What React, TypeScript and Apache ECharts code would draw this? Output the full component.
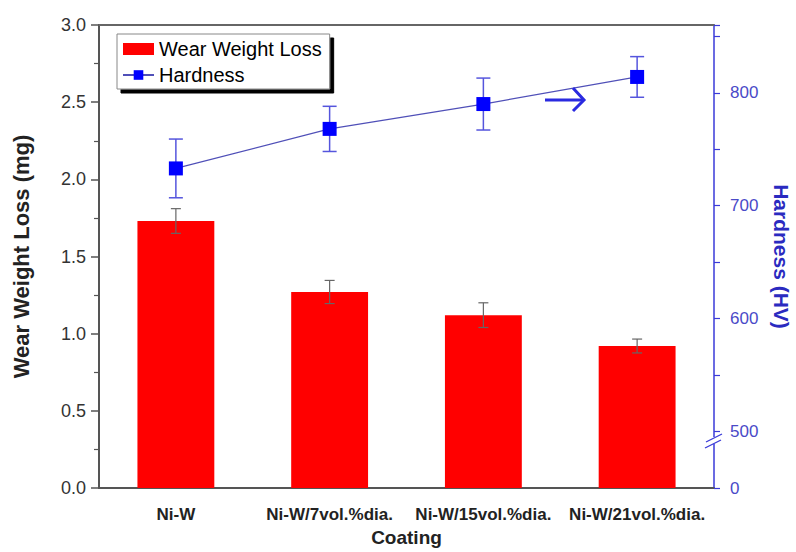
import React, { useEffect, useRef } from "react";
import * as echarts from "echarts";

const categories = ["Ni-W", "Ni-W/7vol.%dia.", "Ni-W/15vol.%dia.", "Ni-W/21vol.%dia."];
const wearLoss = [1.73, 1.27, 1.12, 0.92];
const wearErr = [0.08, 0.075, 0.08, 0.045];
const hardness = [733, 768, 790, 814];
const hardnessErr = [26, 20, 23, 18];
// right axis: broken axis, bottom value shown as "0"
const rightAxisMin = 450;
const rightAxisMax = 860;
const rightAxisLabels: Record<number, string> = { 450: "0", 500: "500", 600: "600", 700: "700", 800: "800" };

const FONT = "'Liberation Sans', Arial, Helvetica, sans-serif";

function errRender(capHalf: number, color: string, lw: number) {
  return (params: any, api: any) => {
    const x = api.value(0);
    const lo = api.coord([x, api.value(1)]);
    const hi = api.coord([x, api.value(2)]);
    const style = { stroke: color, lineWidth: lw, fill: "none" };
    return {
      type: "group",
      children: [
        { type: "line", shape: { x1: lo[0], y1: lo[1], x2: hi[0], y2: hi[1] }, style },
        { type: "line", shape: { x1: hi[0] - capHalf, y1: hi[1], x2: hi[0] + capHalf, y2: hi[1] }, style },
        { type: "line", shape: { x1: lo[0] - capHalf, y1: lo[1], x2: lo[0] + capHalf, y2: lo[1] }, style },
      ],
    };
  };
}

export default function App() {
  const ref = useRef<HTMLDivElement>(null);
  useEffect(() => {
    if (!ref.current) return;
    const chart = echarts.init(ref.current, undefined, { renderer: "svg" });
    const axisGray = "#555";
    const blue = "#3a3ad8";
    chart.setOption({
      animation: false,
      backgroundColor: "#fff",
      textStyle: { fontFamily: FONT },
      grid: { left: 99, right: 82, top: 25, bottom: 64, containLabel: false, outerBoundsMode: "none" },
      legend: {
        orient: "vertical",
        left: 117,
        top: 34,
        data: [
          { name: "Wear Weight Loss", icon: "rect" },
          { name: "Hardness" },
        ],
        itemWidth: 31,
        itemHeight: 12,
        itemGap: 6,
        padding: [5, 8, 4, 5],
        backgroundColor: "#fff",
        borderColor: "#888",
        borderWidth: 1,
        shadowColor: "#000",
        shadowBlur: 0,
        shadowOffsetX: 4,
        shadowOffsetY: 4,
        textStyle: { fontSize: 20, color: "#000", fontFamily: FONT },
      },
      xAxis: [
        {
          type: "category",
          data: categories,
          name: "Coating",
          nameLocation: "middle",
          nameGap: 40,
          nameTextStyle: { fontSize: 19, fontWeight: "bold", color: "#222", fontFamily: FONT },
          axisLine: { lineStyle: { color: axisGray, width: 2 } },
          axisTick: { alignWithLabel: true, length: 6, lineStyle: { color: axisGray, width: 1.5 } },
          axisLabel: { interval: 0, fontSize: 17, fontWeight: "bold", color: "#222", margin: 18, fontFamily: FONT },
          splitLine: { show: false },
        },
        {
          type: "category",
          data: categories,
          position: "top",
          axisLine: { lineStyle: { color: "#666", width: 2 } },
          axisTick: { show: false },
          axisLabel: { show: false },
          splitLine: { show: false },
        },
      ],
      yAxis: [
        {
          type: "value",
          min: 0,
          max: 3,
          interval: 0.5,
          name: "Wear Weight Loss (mg)",
          nameLocation: "middle",
          nameGap: 67,
          nameTextStyle: { fontSize: 22, fontWeight: "bold", color: "#222", fontFamily: FONT },
          axisLine: { show: true, lineStyle: { color: axisGray, width: 2 } },
          axisTick: { show: true, length: 8, lineStyle: { color: axisGray, width: 1.5 } },
          minorTick: { show: true, splitNumber: 2, length: 5, lineStyle: { color: axisGray, width: 1.2 } },
          axisLabel: { fontSize: 18, color: "#333", margin: 13, fontFamily: FONT, formatter: (v: number) => v.toFixed(1) },
          splitLine: { show: false },
        },
        {
          type: "value",
          position: "right",
          min: rightAxisMin,
          max: rightAxisMax,
          interval: 50,
          name: "Hardness (HV)",
          nameLocation: "middle",
          nameRotate: -90,
          nameGap: 57,
          nameTextStyle: { fontSize: 21, fontWeight: "bold", color: "#2a2ac0", fontFamily: FONT },
          axisLine: { show: true, lineStyle: { color: blue, width: 1.5 } },
          axisTick: { show: true, length: 6, lineStyle: { color: blue, width: 1.2 } },
          axisLabel: {
            fontSize: 17,
            color: "#4a4ac8",
            margin: 16,
            fontFamily: FONT,
            formatter: (v: number) => rightAxisLabels[v] ?? "",
          },
          splitLine: { show: false },
        },
      ],
      series: [
        {
          name: "Wear Weight Loss",
          type: "bar",
          data: wearLoss,
          barWidth: "50%",
          itemStyle: { color: "#ff0000" },
          z: 2,
        },
        {
          name: "wearErr",
          type: "custom",
          data: categories.map((c, i) => [i, wearLoss[i] - wearErr[i], wearLoss[i] + wearErr[i]]),
          encode: { x: 0, y: [1, 2] },
          renderItem: errRender(5, "#666", 1.2),
          z: 3,
        },
        {
          name: "hardErr",
          type: "custom",
          yAxisIndex: 1,
          data: categories.map((c, i) => [i, hardness[i] - hardnessErr[i], hardness[i] + hardnessErr[i]]),
          encode: { x: 0, y: [1, 2] },
          renderItem: errRender(7, "#5555dd", 1.5),
          z: 4,
        },
        {
          name: "Hardness",
          type: "line",
          yAxisIndex: 1,
          data: hardness,
          symbol: "rect",
          symbolSize: 14,
          itemStyle: { color: "#0000ff" },
          lineStyle: { color: "#5050b8", width: 1.2 },
          z: 5,
        },
      ],
      graphic: [
        // break mark on right axis
        { type: "rect", shape: { x: 709, y: 437, width: 10, height: 7 }, style: { fill: "#fff" }, z: 100 },
        { type: "line", shape: { x1: 706, y1: 442, x2: 722, y2: 434 }, style: { stroke: blue, lineWidth: 1.3 }, z: 101 },
        { type: "line", shape: { x1: 705, y1: 448, x2: 721, y2: 440 }, style: { stroke: blue, lineWidth: 1.3 }, z: 101 },
        // arrow pointing to right axis
        { type: "line", shape: { x1: 545, y1: 100, x2: 583, y2: 100 }, style: { stroke: "#2a2ae0", lineWidth: 3 }, z: 100 },
        {
          type: "polyline",
          shape: { points: [[573, 88], [584, 100], [573, 111]] },
          style: { stroke: "#2a2ae0", lineWidth: 3, fill: "none" },
          z: 100,
        },
      ],
    });
    return () => chart.dispose();
  }, []);
  return <div ref={ref} style={{ position: "fixed", left: 0, top: 0, width: 796, height: 552 }} />;
}
